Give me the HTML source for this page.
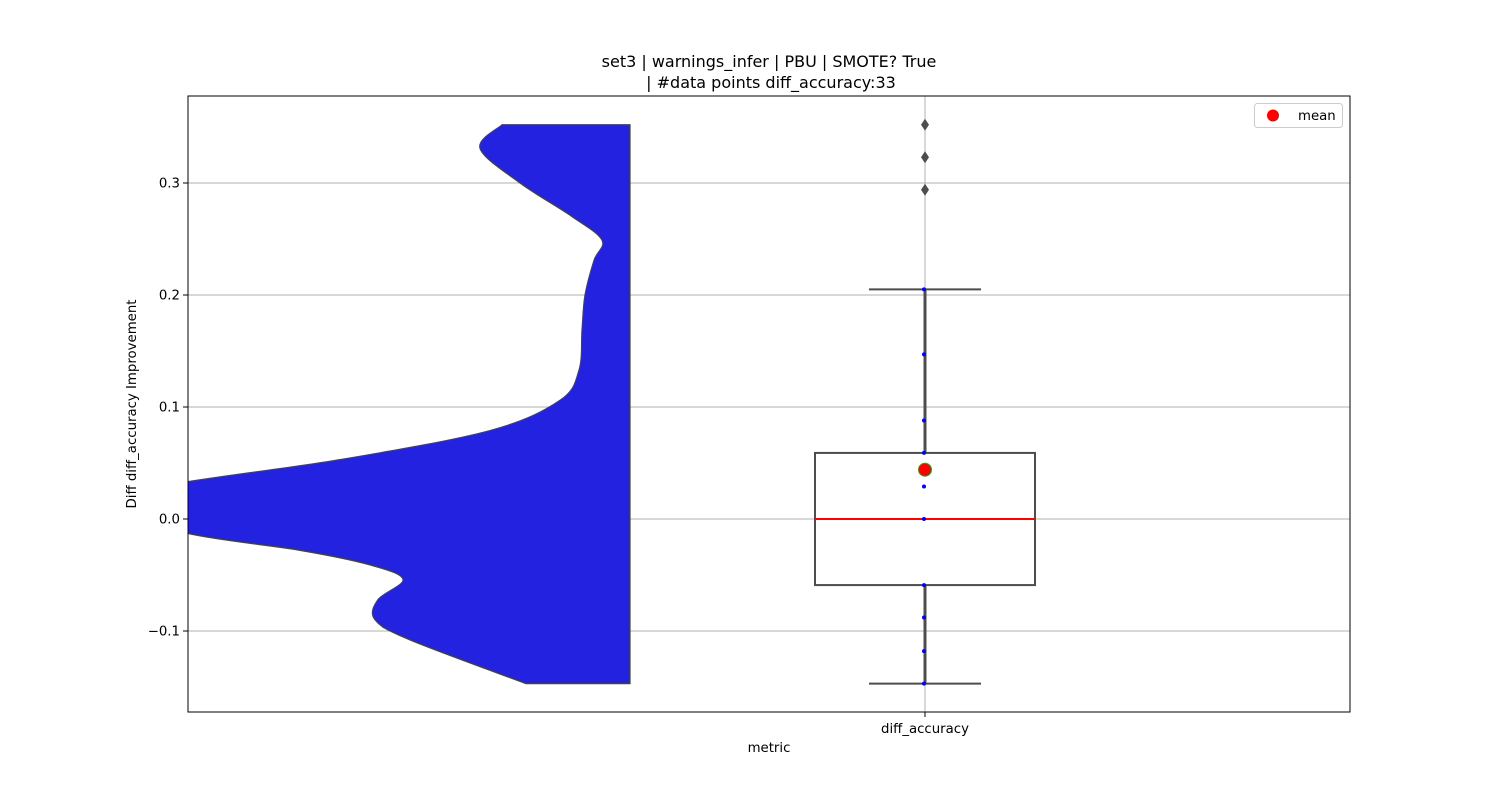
<!DOCTYPE html>
<html><head><meta charset="utf-8"><style>
body{margin:0;background:#fff;}
svg{display:block;font-family:"DejaVu Sans","Liberation Sans",sans-serif;}
</style></head><body>
<svg id="chart" width="1500" height="800" viewBox="0 0 1500 800" xmlns="http://www.w3.org/2000/svg">
<rect width="1500" height="800" fill="#fff"/>
<defs><clipPath id="clip"><rect x="188" y="96" width="1162" height="616"/></clipPath></defs>
<g id="grid"></g>
<g id="marks" clip-path="url(#clip)"></g>
<rect x="188" y="96" width="1162" height="616" fill="none" stroke="#000" stroke-width="1"/>
<g id="ticks"></g>
<text x="769" y="67" text-anchor="middle" font-size="16">set3 | warnings_infer | PBU | SMOTE? True</text>
<text x="771" y="88" text-anchor="middle" font-size="16">| #data points diff_accuracy:33</text>
<text x="769" y="752" text-anchor="middle" font-size="13.3">metric</text>
<text x="925" y="733" text-anchor="middle" font-size="13.3">diff_accuracy</text>
<line x1="925" y1="712" x2="925" y2="717" stroke="#000"/>
<text transform="translate(136,404) rotate(-90)" text-anchor="middle" font-size="13.3">Diff diff_accuracy Improvement</text>
<g>
<rect x="1254.5" y="103.5" width="88" height="24" rx="3" fill="#fff" stroke="#ccc"/>
<circle cx="1273" cy="115.5" r="6" fill="red"/>
<text x="1298" y="120" font-size="13.3">mean</text>
</g>
</svg>
<script>
const yTicks=[-0.1,0,0.1,0.2,0.3];
const yTickLabels=["\u22120.1","0.0","0.1","0.2","0.3"];
const violinVals=[0.352,0.331,0.300,0.270,0.249,0.231,0.200,0.169,0.133,0.106,0.079,0.053,0.029,0.010,-0.013,-0.028,-0.041,-0.054,-0.072,-0.090,-0.108,-0.147];
const violinWidths=[128,150,110,58,28,36,45,48,51,70,140,290,470,520,442,330,260,227,252,255,220,104];
const q1=-0.059, median=0.0, q3=0.059, whiskLo=-0.147, whiskHi=0.205, meanVal=0.044;
const outliers=[0.352,0.323,0.294];
const stripVals=[0.205,0.147,0.088,0.059,0.029,0,-0.059,-0.088,-0.118,-0.147];
const NS="http://www.w3.org/2000/svg";
const y=v=>519-1120*v;
const cx=925, vRight=630, boxHalf=110, capHalf=56;
function mk(tag,attrs,parent){const e=document.createElementNS(NS,tag);for(const k in attrs)e.setAttribute(k,attrs[k]);parent.appendChild(e);return e;}
const grid=document.getElementById('grid'),marks=document.getElementById('marks'),ticks=document.getElementById('ticks');
yTicks.forEach((t,i)=>{
 const g=mk('line',{x1:188,x2:1350,y1:y(t),y2:y(t),stroke:'#b0b0b0','stroke-width':1},grid);
 
 
 const tk=mk('line',{x1:183,x2:188,y1:y(t),y2:y(t),stroke:'#000'},ticks);
 
 
 const tx=mk('text',{x:180,y:y(t)+4.5,'text-anchor':'end','font-size':13.3},ticks);
 tx.textContent=yTickLabels[i];
 
 
});
const vg=mk('line',{x1:cx,x2:cx,y1:96,y2:712,stroke:'#b0b0b0'},grid);


const pts=violinVals.map((v,i)=>[vRight-violinWidths[i],y(v)]);
let d=`M${vRight},${y(violinVals[0])} L${pts[0][0]},${pts[0][1]}`;
for(let i=0;i<pts.length-1;i++){
 const p0=pts[Math.max(0,i-1)],p1=pts[i],p2=pts[i+1],p3=pts[Math.min(pts.length-1,i+2)];
 const c1=[p1[0]+(p2[0]-p0[0])/6,p1[1]+(p2[1]-p0[1])/6],c2=[p2[0]-(p3[0]-p1[0])/6,p2[1]-(p3[1]-p1[1])/6];
 d+=` C${c1[0]},${c1[1]} ${c2[0]},${c2[1]} ${p2[0]},${p2[1]}`;
}
d+=` L${vRight},${y(violinVals[violinVals.length-1])} Z`;
const vio=mk('path',{d,fill:'#2222e0',stroke:'#444','stroke-width':1.2},marks);


[[whiskHi,q3],[q1,whiskLo]].forEach(([a,b])=>{
 const w=mk('line',{x1:cx,x2:cx,y1:y(a),y2:y(b),stroke:'#4d4d4d','stroke-width':3},marks);
 
 
});
[whiskHi,whiskLo].forEach(v=>{
 const c=mk('line',{x1:cx-capHalf,x2:cx+capHalf,y1:y(v),y2:y(v),stroke:'#4d4d4d','stroke-width':2},marks);
 
 
});
const box=mk('rect',{x:cx-boxHalf,y:y(q3),width:2*boxHalf,height:y(q1)-y(q3),fill:'#fff',stroke:'#4d4d4d','stroke-width':2},marks);


const med=mk('line',{x1:cx-boxHalf,x2:cx+boxHalf,y1:y(median),y2:y(median),stroke:'red','stroke-width':2},marks);


outliers.forEach(v=>{
 const yy=y(v);
 const o=mk('path',{d:`M${cx},${yy-6} L${cx+4},${yy} L${cx},${yy+6} L${cx-4},${yy} Z`,fill:'#4d4d4d'},marks);
 
 
});
stripVals.forEach(v=>{
 const s=mk('circle',{cx:cx-1,cy:y(v),r:2,fill:'blue'},marks);
 
 
});
const mn=mk('circle',{cx:cx,cy:y(meanVal),r:6.5,fill:'red',stroke:'#2ca02c','stroke-width':1},marks);


</script>
</body></html>
